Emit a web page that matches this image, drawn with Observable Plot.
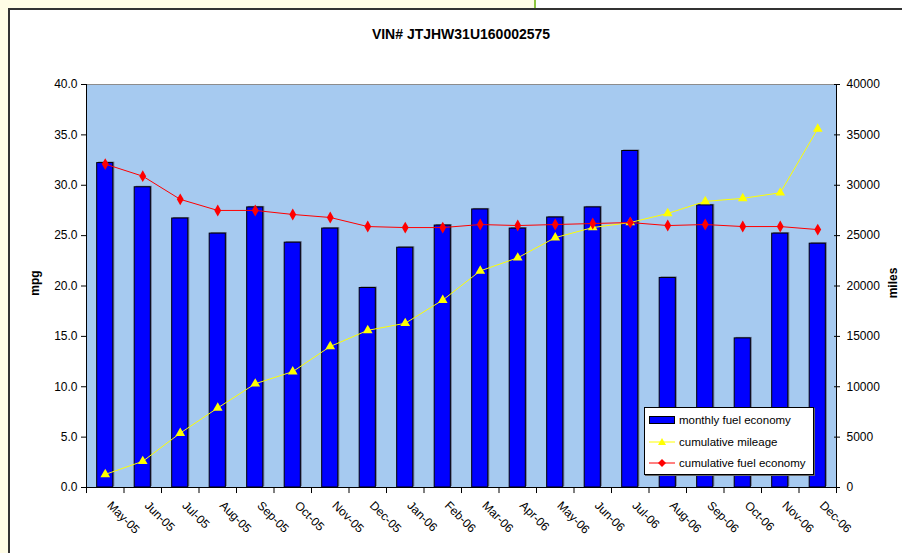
<!DOCTYPE html>
<html><head><meta charset="utf-8">
<script src="https://cdn.jsdelivr.net/npm/d3@7"></script>
<script src="https://cdn.jsdelivr.net/npm/@observablehq/plot@0.6"></script>
<style>
body{margin:0;background:#fff;font-family:"Liberation Sans",Arial,sans-serif;}
#wrap{position:relative;width:902px;height:553px;overflow:hidden;background:#fff;}
.abs{position:absolute;}
#chart{position:absolute;left:0;top:0;}
#title{position:absolute;left:0;width:922px;top:26px;text-align:center;font-weight:bold;font-size:14px;}
.ylab{position:absolute;font-weight:bold;font-size:12px;transform:translate(-50%,-50%) rotate(-90deg);white-space:nowrap;}
#legend{position:absolute;left:644px;top:407px;width:168px;height:66px;background:#fff;border:1px solid #000;box-shadow:1px 1px 0 #666;font-size:11.5px;}
.li{position:absolute;left:4px;height:16px;display:flex;align-items:center;}
.li svg{margin-right:4px;}
</style></head><body>
<div id="wrap">
  <div class="abs" style="left:0;top:0;width:8px;height:553px;background:#FFFDE6"></div>
  <div class="abs" style="left:0;top:0;width:535px;height:8px;background:#FFFDE6"></div>
  <div class="abs" style="left:534px;top:0;width:2px;height:8px;background:#8DC63F"></div>
  <div class="abs" style="left:8px;top:8px;width:894px;height:2px;background:#333"></div>
  <div class="abs" style="left:8px;top:8px;width:2px;height:545px;background:#333"></div>
  <div id="chart"></div>
  <div id="title">VIN# JTJHW31U160002575</div>
  <div class="ylab" style="left:35px;top:283px">mpg</div>
  <div class="ylab" style="left:893px;top:283px">miles</div>
  <div id="legend">
    <div class="li" style="top:4px"><svg width="26" height="10"><rect x="0.5" y="1.5" width="25" height="7" fill="#0000FF" stroke="#000"/></svg>monthly fuel economy</div>
    <div class="li" style="top:26px"><svg width="26" height="10"><line x1="0" y1="5" x2="26" y2="5" stroke="#FFFF00"/><path d="M13,1 L17,8 L9,8 Z" fill="#FFFF00"/></svg>cumulative mileage</div>
    <div class="li" style="top:47px"><svg width="26" height="10"><line x1="0" y1="5" x2="26" y2="5" stroke="#FF0000"/><path d="M13,1 L17,5 L13,9 L9,5 Z" fill="#FF0000"/></svg>cumulative fuel economy</div>
  </div>
</div>
<script>
const months = ["May-05","Jun-05","Jul-05","Aug-05","Sep-05","Oct-05","Nov-05","Dec-05","Jan-06","Feb-06","Mar-06","Apr-06","May-06","Jun-06","Jul-06","Aug-06","Sep-06","Oct-06","Nov-06","Dec-06"];
const monthlyMpg = [32.2,29.8,26.7,25.2,27.8,24.3,25.7,19.8,23.8,26.0,27.6,25.7,26.8,27.8,33.4,20.8,28.0,14.8,25.2,24.2];
const cumulativeMiles = [1300,2600,5400,7900,10300,11500,14000,15600,16300,18600,21500,22800,24800,25800,26300,27200,28400,28700,29250,35600];
const cumulativeMpg = [32.1,30.9,28.6,27.5,27.5,27.1,26.8,25.9,25.8,25.8,26.1,26.0,26.1,26.2,26.3,26.0,26.1,25.9,25.9,25.6];
const mpgTicks = [0,5,10,15,20,25,30,35,40];
const milesTicks = [0,5000,10000,15000,20000,25000,30000,35000,40000];

const data = months.map((m,i)=>({month:m, mpg:monthlyMpg[i], miles:cumulativeMiles[i], cmpg:cumulativeMpg[i]}));
const W=902,H=553,ML=86,MR=66,MT=84,MB=66;
const bw = (W-ML-MR)/months.length;
const milesToMpg = v => v/1000; // right axis: 40000 miles aligns with 40 mpg

const chart = Plot.plot({
  width:W, height:H, marginLeft:ML, marginRight:MR, marginTop:MT, marginBottom:MB,
  style:{background:"transparent", fontFamily:"'Liberation Sans', Arial, sans-serif", fontSize:"12px", color:"#000", overflow:"visible"},
  x:{domain:months, paddingInner:0.57, paddingOuter:0.285, align:0.5, round:false, label:null},
  y:{domain:[0,40], label:null},
  marks:[
    Plot.frame({fill:"#A6CAF0", stroke:"#8c8c8c"}),
    Plot.barY(data,{x:"month", y:"mpg", fill:"#6e7a94", dx:1.5, dy:-1}),
    Plot.barY(data,{x:"month", y:"mpg", fill:"#0000FF", stroke:"#000", strokeWidth:1}),
    Plot.line(data,{x:"month", y:d=>milesToMpg(d.miles), stroke:"#FFFF00", strokeWidth:1}),
    Plot.dot(data,{x:"month", y:d=>milesToMpg(d.miles), symbol:"triangle", fill:"#FFFF00", r:3.6}),
    Plot.line(data,{x:"month", y:"cmpg", stroke:"#FF0000", strokeWidth:1}),
    Plot.dot(data,{x:"month", y:"cmpg", symbol:"diamond", fill:"#FF0000", r:3.6}),
    Plot.ruleY([0],{stroke:"#000"}),
    Plot.frame({anchor:"left", stroke:"#000"}),
    Plot.frame({anchor:"right", stroke:"#000"}),
    Plot.axisY({anchor:"left", ticks:mpgTicks, tickFormat:d3.format(".1f"), tickSize:5, tickPadding:4, label:null}),
    Plot.axisY({anchor:"right", ticks:milesTicks.map(milesToMpg), tickFormat:d=>String(Math.round(d*1000)), tickSize:6, dx:-3, tickPadding:7, label:null}),
    Plot.ruleX(months,{x:d=>d, dx:-bw/2, y1:0, y2:-0.6, stroke:"#000"}),
    Plot.ruleX(["Dec-06"],{x:d=>d, dx:bw/2, y1:0, y2:-0.6, stroke:"#000"}),
    Plot.axisX({tickRotate:45, tickSize:0, tickPadding:16, dx:4, textAnchor:"start", label:null, fontSize:12})
  ]
});
document.getElementById("chart").appendChild(chart);
</script>
</body></html>
